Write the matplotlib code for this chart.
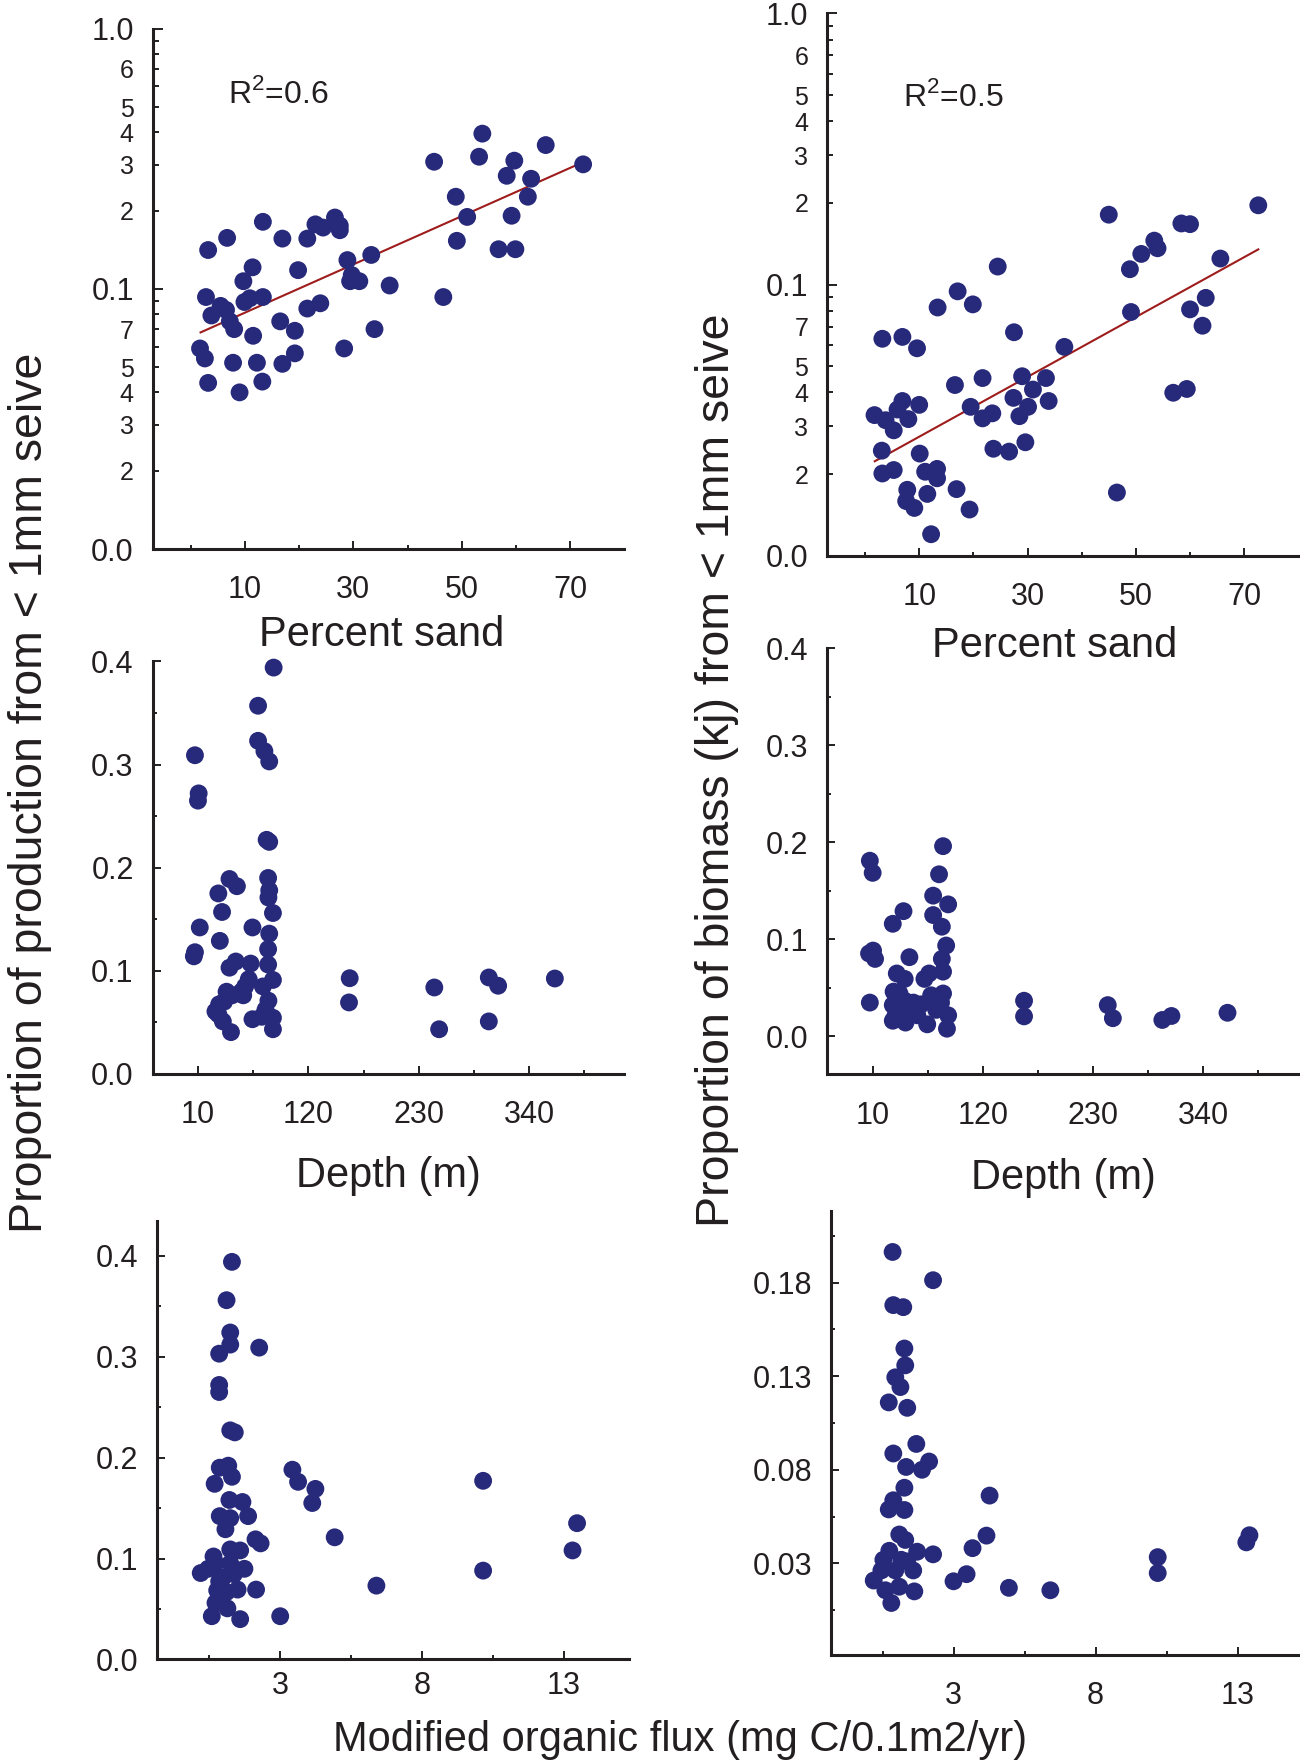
import numpy as np
import matplotlib
matplotlib.use("Agg")
import matplotlib.pyplot as plt
from matplotlib.ticker import FixedLocator, FixedFormatter, NullFormatter

plt.rcParams['font.family'] = ['Liberation Sans', 'DejaVu Sans']
plt.rcParams['mathtext.fontset'] = 'custom'
plt.rcParams['mathtext.rm'] = 'Liberation Sans'

INK = '#231f20'
DOT = '#27297a'
FIT = '#9e1c1c'

# --- production vs percent sand (log axis)
sand_p = [1.7, 2.6, 3.2, 3.2, 2.8, 3.8, 5.5, 6.5, 6.7, 7.2, 8.0, 7.8, 9.0, 9.7, 9.9,
          10.9, 11.4, 11.5, 12.2, 13.2, 13.3, 13.3, 16.5, 16.9, 16.9, 19.2, 19.2, 19.8,
          21.5, 21.5, 23.9, 23.0, 24.4, 26.6, 27.5, 27.5, 28.3, 28.9, 29.7, 29.4, 31.1,
          33.3, 33.9, 36.7, 44.9, 46.6, 48.9, 49.1, 51.0, 53.2, 53.8, 56.8, 58.3, 59.2,
          59.7, 59.9, 62.2, 62.8, 65.5, 72.4]
prod_sand = [0.059, 0.054, 0.0435, 0.141, 0.093, 0.079, 0.086, 0.083, 0.157, 0.075,
             0.070, 0.052, 0.040, 0.107, 0.089, 0.092, 0.121, 0.066, 0.052, 0.044,
             0.093, 0.181, 0.075, 0.0515, 0.156, 0.069, 0.0565, 0.118, 0.156, 0.084,
             0.088, 0.177, 0.172, 0.188, 0.175, 0.168, 0.059, 0.129, 0.113, 0.107,
             0.107, 0.135, 0.070, 0.103, 0.308, 0.093, 0.226, 0.153, 0.189, 0.322,
             0.395, 0.142, 0.272, 0.191, 0.311, 0.142, 0.226, 0.265, 0.357, 0.301]
fit_prod_x = [1.8, 71.0]
fit_prod_y = [0.068, 0.298]

# --- biomass vs percent sand (log axis)
sand_b = [1.75, 3.2, 3.1, 3.2, 3.8, 5.3, 5.3, 6.0, 6.9, 6.9, 7.8, 7.6, 8.0, 9.1, 9.6,
          10.0, 10.1, 11.1, 11.5, 12.2, 13.3, 13.3, 13.4, 16.6, 16.9, 17.1, 19.3, 19.5,
          19.9, 21.7, 21.7, 23.5, 23.7, 24.5, 26.6, 27.4, 27.5, 28.5, 29.0, 29.6, 30.1,
          31.0, 33.4, 33.9, 36.8, 45.0, 46.5, 48.9, 49.1, 51.0, 53.4, 54.0, 56.9, 58.4,
          60.0, 59.4, 60.0, 62.3, 62.9, 65.6, 72.6]
bio_sand = [0.0330, 0.0631, 0.0244, 0.0201, 0.0316, 0.0207, 0.0290, 0.0346, 0.0641,
            0.0372, 0.0175, 0.0159, 0.0319, 0.0150, 0.0582, 0.0360, 0.0238, 0.0204,
            0.0169, 0.0120, 0.0209, 0.0193, 0.0823, 0.0426, 0.0176, 0.0944, 0.0148,
            0.0354, 0.0845, 0.0452, 0.0321, 0.0335, 0.0248, 0.1165, 0.0242, 0.0382,
            0.0667, 0.0327, 0.0459, 0.0262, 0.0354, 0.0410, 0.0452, 0.0372, 0.0589,
            0.181, 0.0171, 0.1139, 0.0792, 0.1297, 0.1452, 0.1361, 0.0399, 0.168,
            0.167, 0.0412, 0.0810, 0.0705, 0.0893, 0.1247, 0.196]
fit_bio_x = [1.8, 72.6]
fit_bio_y = [0.0223, 0.1348]

# --- depth
depth_p = [7.0, 10.7, 10.0, 11.8, 7.0, 5.9, 30.3, 34.0, 31.8, 41.4, 48.8, 41.4, 47.7,
           62.5, 64.3, 31.1, 30.3, 34.8, 42.9, 44.0, 53.3, 57.0, 60.6, 64.3, 69.9, 69.9,
           76.2, 81.0, 85.4, 78.4, 81.0, 79.9, 81.0, 80.2, 84.7, 81.0, 79.9, 79.9, 84.7,
           74.7, 80.2, 77.3, 84.7, 84.7, 73.6, 161.2, 160.5, 245.5, 250.3, 299.8, 309.1,
           299.8, 365.6, 27.4, 38.5, 55.1, 36.0]
prod_depth = [0.309, 0.272, 0.265, 0.142, 0.118, 0.114, 0.175, 0.157, 0.129, 0.189,
              0.182, 0.103, 0.109, 0.107, 0.142, 0.0675, 0.0578, 0.0509, 0.0405, 0.0762,
              0.0797, 0.0848, 0.0918, 0.0530, 0.357, 0.323, 0.313, 0.303, 0.394, 0.227,
              0.225, 0.190, 0.178, 0.171, 0.156, 0.136, 0.121, 0.106, 0.0911, 0.0848,
              0.0710, 0.0623, 0.0544, 0.0433, 0.0554, 0.0928, 0.0693, 0.0838, 0.0433,
              0.0935, 0.0855, 0.0509, 0.0925, 0.0606, 0.0797, 0.0762, 0.070]

depth_b = [7.2, 10.0, 6.4, 10.4, 12.4, 7.2, 30.1, 40.8, 46.7, 34.1, 42.0, 30.9, 30.1,
           30.1, 42.8, 38.8, 50.7, 58.5, 64.5, 61.7, 66.4, 70.4, 70.4, 76.3, 80.3, 85.4,
           79.1, 83.4, 79.1, 80.3, 80.3, 78.3, 85.4, 84.2, 73.5, 68.4, 161.2, 161.2,
           244.8, 249.9, 299.3, 308.4, 364.4, 36.8, 46.7, 54.6, 32.9, 42.0]
bio_depth = [0.181, 0.1685, 0.0854, 0.0884, 0.0798, 0.0348, 0.116, 0.129, 0.0816, 0.0648,
             0.0592, 0.0461, 0.0322, 0.0161, 0.0142, 0.0292, 0.0348, 0.0330, 0.0124,
             0.0592, 0.0648, 0.145, 0.125, 0.167, 0.196, 0.136, 0.113, 0.0936, 0.0798,
             0.0667, 0.0442, 0.0348, 0.0217, 0.0079, 0.0273, 0.0423, 0.0367, 0.0206,
             0.0322, 0.0187, 0.0169, 0.0210, 0.0243, 0.0442, 0.0255, 0.0217, 0.0217, 0.0367]

# --- modified organic flux
flux_p = [1.30, 1.11, 1.24, 1.24, 0.85, 2.26, 0.85, 0.85, 1.24, 1.40, 0.87, 1.17, 1.30,
          0.69, 3.43, 3.63, 4.24, 4.13, 4.92, 10.15, 13.46, 13.30, 10.15, 6.39, 3.0, 1.59,
          0.59, 1.21, 1.67, 1.87, 0.87, 1.07, 1.24, 2.13, 2.31, 1.24, 1.59, 0.65, 0.20,
          0.46, 1.74, 2.15, 1.50, 0.78, 0.72, 1.14, 0.98, 1.24, 0.85, 1.11, 1.37, 0.72]
prod_flux = [0.394, 0.356, 0.324, 0.312, 0.303, 0.309, 0.272, 0.265, 0.227, 0.225, 0.190,
             0.192, 0.181, 0.174, 0.188, 0.176, 0.169, 0.155, 0.121, 0.177, 0.135, 0.108,
             0.088, 0.0731, 0.0428, 0.0399, 0.0428, 0.158, 0.156, 0.142, 0.142, 0.129,
             0.140, 0.119, 0.115, 0.109, 0.108, 0.102, 0.0856, 0.0898, 0.0898, 0.0692,
             0.0692, 0.0684, 0.0560, 0.0506, 0.0809, 0.0952, 0.0774, 0.0667, 0.0845, 0.0952]

flux_b = [0.855, 2.28, 0.88, 1.23, 1.27, 1.30, 0.95, 1.13, 0.72, 1.37, 1.69, 0.88, 1.33,
          1.89, 2.14, 1.27, 0.88, 0.72, 1.27, 4.27, 4.16, 3.67, 3.46, 3.0, 4.95, 6.41,
          10.19, 10.19, 13.42, 13.31, 1.09, 1.30, 2.28, 1.72, 0.53, 0.19, 0.81, 1.62,
          1.58, 0.74, 0.60, 1.09, 0.95, 1.16, 0.46, 1.37]
bio_flux = [0.1964, 0.1813, 0.168, 0.1669, 0.1448, 0.1358, 0.1294, 0.1242, 0.116, 0.1131,
            0.0938, 0.0887, 0.0815, 0.080, 0.0844, 0.0704, 0.0637, 0.0588, 0.0585, 0.0662,
            0.0448, 0.0381, 0.0242, 0.0204, 0.0169, 0.0156, 0.0333, 0.0248, 0.0450,
            0.0412, 0.0454, 0.0425, 0.0348, 0.0362, 0.0319, 0.0208, 0.0088, 0.0150,
            0.0262, 0.0367, 0.0156, 0.0175, 0.0262, 0.0319, 0.0262, 0.0310]

# tick positions / labels
sand_major = [10, 30, 50, 70]
sand_minor = [0, 20, 40, 60]
log_major = [0.01, 0.1, 1.0]
log_major_lbl = ['0.0', '0.1', '1.0']
log_minor = [0.02, 0.03, 0.04, 0.05, 0.06, 0.07, 0.08, 0.09,
             0.2, 0.3, 0.4, 0.5, 0.6, 0.7, 0.8, 0.9]
log_minor_lbl = ['2', '3', '4', '5', '', '7', '', '',
                 '2', '3', '4', '5', '', '6', '', '']
depth_major = [10, 120, 230, 340]
depth_minor = [65, 175, 285, 395]
flux_major = [3, 8, 13]
flux_minor = [0.5, 5.5, 10.5]

W, H = 1300, 1764
fig = plt.figure(figsize=(W / 100, H / 100), dpi=100)


def panel(x0, y0, x1, y1):
    ax = fig.add_axes([x0 / W, 1 - y1 / H, (x1 - x0) / W, (y1 - y0) / H])
    for s in ['top', 'right']:
        ax.spines[s].set_visible(False)
    for s in ['left', 'bottom']:
        ax.spines[s].set_linewidth(2.2)
        ax.spines[s].set_color(INK)
    ax.tick_params(which='both', direction='in', colors=INK, width=1.4)
    ax.tick_params(which='major', length=6, labelsize=22)
    ax.tick_params(which='minor', length=3)
    ax.tick_params(axis='y', which='both', pad=13.5)
    ax.tick_params(axis='x', which='both', pad=19)
    ax.set_facecolor('none')
    return ax


def dots(ax, x, y):
    ax.scatter(x, y, s=165, color=DOT, edgecolors='none', zorder=3, clip_on=False)


def log_y(ax):
    ax.set_yscale('log')
    ax.set_ylim(0.01, 1.0)
    ax.yaxis.set_major_locator(FixedLocator(log_major))
    ax.yaxis.set_major_formatter(FixedFormatter(log_major_lbl))
    ax.yaxis.set_minor_locator(FixedLocator(log_minor))
    ax.yaxis.set_minor_formatter(FixedFormatter(log_minor_lbl))
    ax.tick_params(axis='y', which='minor', labelsize=18, length=4)
    ax.tick_params(axis='y', which='major', length=7)


def lin_x(ax, lim, major, minor):
    ax.set_xlim(*lim)
    ax.set_xticks(major)
    ax.set_xticks(minor, minor=True)
    ax.xaxis.set_minor_formatter(NullFormatter())


def ftext(x, y, s, ha='center', **kw):
    fig.text(x / W, 1 - y / H, s, color=INK, ha=ha, va='center', **kw)


# top row: percent sand
ax1 = panel(152.6, 28.7, 624.3, 549)
dots(ax1, sand_p, prod_sand)
ax1.plot(fit_prod_x, fit_prod_y, color=FIT, lw=1.5, zorder=2)
lin_x(ax1, (-7.05, 80.0), sand_major, sand_minor)
log_y(ax1)

ax2 = panel(827.1, 13.4, 1300, 555.7)
dots(ax2, sand_b, bio_sand)
ax2.plot(fit_bio_x, fit_bio_y, color=FIT, lw=1.5, zorder=2)
lin_x(ax2, (-7.0, 80.3), sand_major, sand_minor)
log_y(ax2)

# middle row: depth
ax3 = panel(152.5, 661.4, 624.2, 1073.9)
dots(ax3, depth_p, prod_depth)
lin_x(ax3, (-35.3, 434.7), depth_major, depth_minor)
ax3.set_ylim(0, 0.4)
ax3.set_yticks([0.0, 0.1, 0.2, 0.3, 0.4])
ax3.set_yticks([0.05, 0.15, 0.25, 0.35], minor=True)

ax4 = panel(827.1, 648.2, 1300, 1074.2)
dots(ax4, depth_b, bio_depth)
lin_x(ax4, (-35.5, 436.8), depth_major, depth_minor)
ax4.set_ylim(-0.039, 0.4)
ax4.set_yticks([0.0, 0.1, 0.2, 0.3, 0.4])
ax4.set_yticks([0.05, 0.15, 0.25, 0.35], minor=True)

# bottom row: organic flux
ax5 = panel(157.3, 1220.9, 629, 1659.4)
dots(ax5, flux_p, prod_flux)
lin_x(ax5, (-1.33, 15.29), flux_major, flux_minor)
ax5.tick_params(axis='x', which='both', pad=8)
ax5.set_ylim(0, 0.4346)
ax5.set_yticks([0.0, 0.1, 0.2, 0.3, 0.4])
ax5.set_yticks([0.05, 0.15, 0.25, 0.35], minor=True)

ax6 = panel(831.4, 1210.8, 1300, 1655)
dots(ax6, flux_b, bio_flux)
lin_x(ax6, (-1.30, 15.2), flux_major, flux_minor)
ax6.set_ylim(-0.019, 0.2184)
ax6.set_yticks([0.03, 0.08, 0.13, 0.18])
ax6.set_yticks([0.005, 0.055, 0.105, 0.155, 0.205], minor=True)

for ax in (ax1, ax3, ax5, ax2, ax4, ax6):
    for lbl in ax.get_xticklabels() + ax.get_yticklabels():
        lbl.set_color(INK)

ftext(228, 94, r'R$^\mathregular{2}$=0.6', ha='left', fontsize=23)
ftext(903, 97, r'R$^\mathregular{2}$=0.5', ha='left', fontsize=23)

ftext(382, 635, 'Percent sand', fontsize=30)
ftext(1055, 646, 'Percent sand', fontsize=30)
ftext(388, 1176, 'Depth (m)', fontsize=30)
ftext(1063, 1178, 'Depth (m)', fontsize=30)
ftext(680, 1740, 'Modified organic flux (mg C/0.1m2/yr)', fontsize=30)
ftext(30, 793, 'Proportion of production from < 1mm seive', fontsize=33.5, rotation=90)
ftext(717, 770, 'Proportion of biomass (kj) from < 1mm seive', fontsize=33.5, rotation=90)

fig.savefig('out.png', dpi=100)
